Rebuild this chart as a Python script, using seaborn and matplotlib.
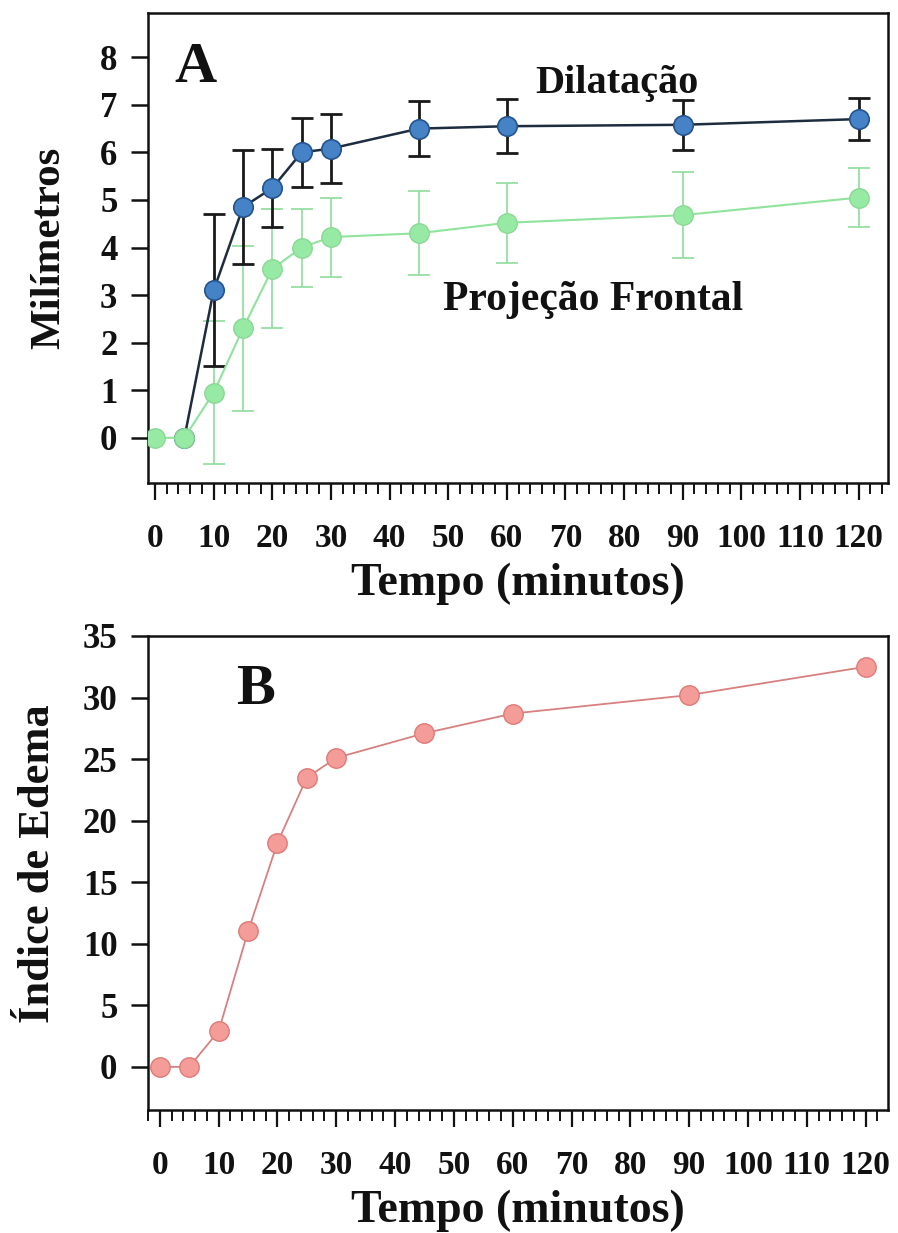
import matplotlib
matplotlib.use("Agg")
import matplotlib.pyplot as plt
import seaborn as sns
import pandas as pd
import numpy as np
from matplotlib.ticker import MultipleLocator

# ---- data ----
tempo = [0, 5, 10, 15, 20, 25, 30, 45, 60, 90, 120]
dilatacao = [0, 0, 3.1, 4.85, 5.25, 6.0, 6.08, 6.5, 6.55, 6.58, 6.7]
dilatacao_err = [0, 0, 1.6, 1.2, 0.82, 0.72, 0.72, 0.58, 0.57, 0.53, 0.45]
projecao = [0, 0, 0.95, 2.3, 3.55, 4.0, 4.22, 4.3, 4.52, 4.68, 5.05]
projecao_err = [0, 0, 1.5, 1.73, 1.25, 0.82, 0.83, 0.88, 0.84, 0.9, 0.62]
edema = [0, 0, 2.9, 11.0, 18.2, 23.5, 25.1, 27.1, 28.7, 30.2, 32.5]

xticks = [0, 10, 20, 30, 40, 50, 60, 70, 80, 90, 100, 110, 120]
yticks_a = [0, 1, 2, 3, 4, 5, 6, 7, 8]
yticks_b = [0, 5, 10, 15, 20, 25, 30, 35]

sns.set_theme(style="ticks")
plt.rcParams['font.family'] = ['Liberation Serif', 'DejaVu Serif']

fig = plt.figure(figsize=(8.98, 12.33), dpi=100)
axA = fig.add_axes([148/898, 1-483/1233, 740/898, 470/1233])
axB = fig.add_axes([148/898, 1-1110/1233, 740/898, 474/1233])

dfA = pd.DataFrame({"tempo": tempo, "dil": dilatacao, "dil_err": dilatacao_err,
                    "proj": projecao, "proj_err": projecao_err})
dfB = pd.DataFrame({"tempo": tempo, "edema": edema})

# Projeção Frontal (green)
axA.errorbar(dfA["tempo"][2:], dfA["proj"][2:], yerr=dfA["proj_err"][2:], fmt="none",
             ecolor="#8fdc9c", elinewidth=1.2, capsize=8, capthick=1.2, zorder=2)
# Dilatação (blue)
axA.errorbar(dfA["tempo"][2:], dfA["dil"][2:], yerr=dfA["dil_err"][2:], fmt="none",
             ecolor="#1a1a1a", elinewidth=2.0, capsize=8, capthick=2.0, zorder=3)
sns.lineplot(data=dfA.iloc[1:], x="tempo", y="dil", ax=axA, color="#1e2c40", lw=1.8,
             marker="o", markersize=14, markerfacecolor="#4682c6",
             markeredgecolor="#24548c", markeredgewidth=1.2, zorder=4)
sns.lineplot(data=dfA, x="tempo", y="proj", ax=axA, color="#8fe39c", lw=1.5,
             marker="o", markersize=14, markerfacecolor="#97eaa3",
             markeredgecolor="#8ad896", markeredgewidth=1.0, zorder=5)

sns.lineplot(data=dfB, x="tempo", y="edema", ax=axB, color="#d88080", lw=1.3,
             marker="o", markersize=14, markerfacecolor="#f39c98",
             markeredgecolor="#e07a78", markeredgewidth=1.0, zorder=4)

axA.set_xlim(-1.2, 125)
axA.set_ylim(-0.95, 8.93)
axB.set_xlim(-2, 123.8)
axB.set_ylim(-3.5, 35)
axA.set_yticks(yticks_a)
axB.set_yticks(yticks_b)

for ax in (axA, axB):
    ax.set_xticks(xticks)
    ax.xaxis.set_minor_locator(MultipleLocator(2))
    for s in ax.spines.values():
        s.set_visible(True)
        s.set_linewidth(1.8)
        s.set_color("#111111")
    ax.tick_params(axis="x", which="major", length=12, width=1.6, pad=17,
                   labelsize=24, colors="#111111")
    ax.tick_params(axis="x", which="minor", length=8, width=1.4, colors="#111111")
    ax.tick_params(axis="y", which="major", length=12, width=1.8, pad=10,
                   labelsize=25, colors="#111111")
    for lab in ax.get_xticklabels() + ax.get_yticklabels():
        lab.set_fontweight("bold")
    ax.set_xlabel("Tempo (minutos)", fontsize=33, fontweight="bold", labelpad=6,
                  color="#111111")
    ax.grid(False)

axA.set_ylabel("Milímetros", fontsize=31, fontweight="bold", color="#111111")
axB.set_ylabel("Índice de Edema", fontsize=32, fontweight="bold", color="#111111")
axA.yaxis.set_label_coords(-0.108, 0.5)
axB.yaxis.set_label_coords(-0.122, 0.52)

axA.text(0.064, 0.883, "A", transform=axA.transAxes, fontsize=42, fontweight="bold",
         ha="center", va="center", color="#111111")
axA.text(0.634, 0.851, "Dilatação", transform=axA.transAxes, fontsize=29, fontweight="bold",
         ha="center", va="center", color="#111111")
axA.text(0.601, 0.389, "Projeção Frontal", transform=axA.transAxes, fontsize=30,
         fontweight="bold", ha="center", va="center", color="#111111")
axB.text(0.145, 0.886, "B", transform=axB.transAxes, fontsize=42, fontweight="bold",
         ha="center", va="center", color="#111111")

fig.savefig("out.png", dpi=100, facecolor="white")
